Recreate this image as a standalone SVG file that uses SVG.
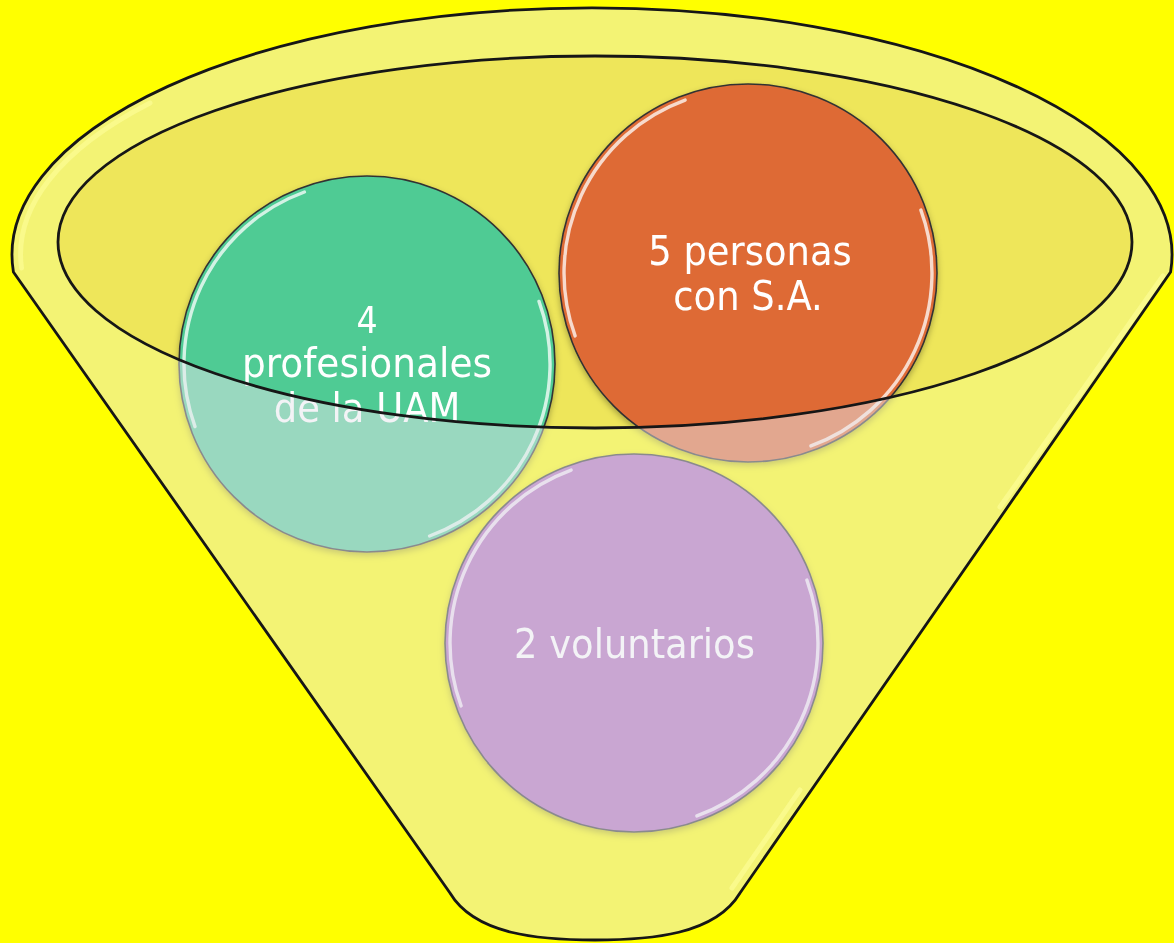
<svg xmlns="http://www.w3.org/2000/svg" width="1174" height="943" viewBox="0 0 1174 943">
<defs>
<style>
.outline{fill:none;stroke:#161616;stroke-width:2.8}
.circ{stroke:#333;stroke-width:1.6}
.gloss{fill:none;stroke:#fff;stroke-width:3.4;stroke-linecap:round;stroke-opacity:0.75}
.lbl{font-family:"DejaVu Sans Condensed","DejaVu Sans",sans-serif;font-stretch:condensed;font-size:41px;fill:#fff;text-anchor:middle}
.rimhl{fill:none;stroke:#FCFC96;stroke-width:5;stroke-linecap:round;stroke-opacity:0.7}
</style>
<filter id="sh" x="-10%" y="-10%" width="120%" height="125%">
<feDropShadow dx="0" dy="3" stdDeviation="3" flood-color="#000" flood-opacity="0.3"/>
</filter>
</defs>
<rect width="1174" height="943" fill="#FFFF00"/>
<g id="funnel-back">
<ellipse cx="595" cy="242" rx="537" ry="186" fill="#EEE65A"/>
</g>
<g id="connectors"/>
<g id="node-profesionales" filter="url(#sh)">
<circle class="circ" cx="367" cy="364" r="188" fill="#4FCB94"/>
<path class="gloss" d="M 195.0 426.6 A 183 183 0 0 1 304.4 192.0"/>
<path class="gloss" d="M 539.0 301.4 A 183 183 0 0 1 429.6 536.0"/>
<text class="lbl" x="367" y="333" style="font-size:37px">4</text>
<text class="lbl" x="367" y="377" textLength="250" lengthAdjust="spacingAndGlyphs">profesionales</text>
<text class="lbl" x="367" y="422">de la UAM</text>
</g>
<g id="node-personas" filter="url(#sh)">
<circle class="circ" cx="748" cy="273" r="189" fill="#DE6B36"/>
<path class="gloss" d="M 575.1 335.9 A 184 184 0 0 1 685.1 100.1"/>
<path class="gloss" d="M 920.9 210.1 A 184 184 0 0 1 810.9 445.9"/>
<text class="lbl" x="750" y="265">5 personas</text>
<text class="lbl" x="748" y="310">con S.A.</text>
</g>
<g id="node-voluntarios" filter="url(#sh)">
<circle class="circ" cx="634" cy="643" r="189" fill="#AD67B9"/>
<path class="gloss" d="M 461.1 705.9 A 184 184 0 0 1 571.1 470.1"/>
<path class="gloss" d="M 806.9 580.1 A 184 184 0 0 1 696.9 815.9"/>
<text class="lbl" x="634.5" y="658">2 voluntarios</text>
</g>
<g id="funnel-front">
<path fill="#E6E6EC" fill-opacity="0.49" fill-rule="evenodd" d="M 13.4 272 A 580 247 0 1 1 1170.6 272 L 740 893 C 715 935 650 940 595 940 C 540 940 475 935 450 893 Z M 58 242 A 537 186 0 1 0 1132 242 A 537 186 0 1 0 58 242 Z"/>
<path class="rimhl" d="M 21.5 268 A 572 239 0 0 1 150 103"/>
<path class="rimhl" d="M 1163 276 L 1000 507"/>
<path class="rimhl" d="M 800 790 L 732 888"/>
<path class="outline" d="M 13.4 272 A 580 247 0 1 1 1170.6 272 L 740 893 C 715 935 650 940 595 940 C 540 940 475 935 450 893 Z"/>
<ellipse class="outline" cx="595" cy="242" rx="537" ry="186"/>
</g>
</svg>
